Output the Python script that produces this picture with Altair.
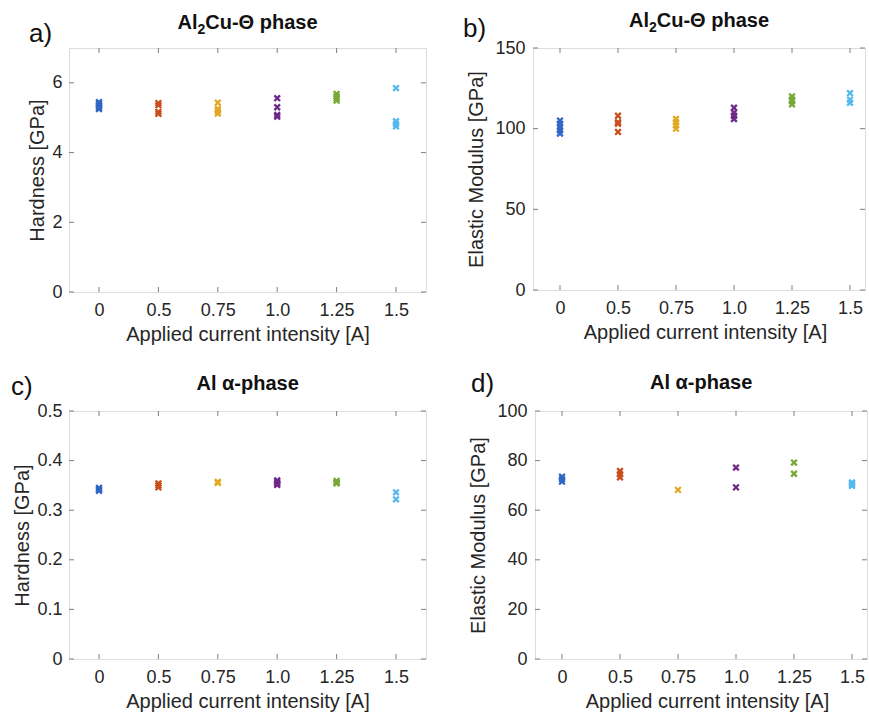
import altair as alt
import pandas as pd

# ---------------- data ----------------
cats = ["0", "0.5", "0.75", "1.0", "1.25", "1.5"]
colors = ["#2F67C4", "#C9501C", "#E0AA22", "#6E2886", "#76A935", "#55B9EE"]

# a) Al2Cu-theta phase, hardness [GPa]
hard_theta_0 = [5.25, 5.30, 5.35, 5.40, 5.45]
hard_theta_05 = [5.42, 5.36, 5.17, 5.11]
hard_theta_075 = [5.43, 5.25, 5.19, 5.12]
hard_theta_10 = [5.56, 5.30, 5.08, 5.03]
hard_theta_125 = [5.68, 5.61, 5.55, 5.49]
hard_theta_15 = [5.85, 4.90, 4.82, 4.75]

# b) Al2Cu-theta phase, elastic modulus [GPa]
mod_theta_0 = [105, 103, 101, 99, 97]
mod_theta_05 = [108, 104, 103, 98]
mod_theta_075 = [106, 104, 102, 100]
mod_theta_10 = [113, 110, 108, 106]
mod_theta_125 = [120, 118, 117, 115]
mod_theta_15 = [122, 118, 116]

# c) Al alpha-phase, hardness [GPa]
hard_alpha_0 = [0.345, 0.342, 0.339]
hard_alpha_05 = [0.354, 0.350, 0.346]
hard_alpha_075 = [0.357, 0.355]
hard_alpha_10 = [0.360, 0.357, 0.354, 0.351]
hard_alpha_125 = [0.359, 0.356, 0.354]
hard_alpha_15 = [0.336, 0.322]

# d) Al alpha-phase, elastic modulus [GPa]
mod_alpha_0 = [73.5, 72.5, 71.5]
mod_alpha_05 = [75.8, 74.5, 73.2]
mod_alpha_075 = [68.2]
mod_alpha_10 = [77.2, 69.2]
mod_alpha_125 = [79.2, 74.7]
mod_alpha_15 = [71.2, 70.5, 69.8]

FONT = "Liberation Sans"
TXT = "#262626"
BOX = "#7f7f7f"
XPATH = "M-1,-1L1,1M1,-1L-1,1"
TFS = 20  # panel title font size


def frame(groups):
    rows = []
    for c, vals in zip(cats, groups):
        for v in vals:
            rows.append({"cat": c, "v": v})
    return pd.DataFrame(rows)


def title_layers(parts, W, ty):
    # parts: list of (text, fontsize, dy, width_em)
    total = sum(fs * em for _, fs, _, em in parts)
    x = W / 2 - total / 2
    out = []
    for txt, fs, dy, em in parts:
        out.append(alt.Chart(pd.DataFrame({"t": [txt]})).mark_text(
            align="left", baseline="alphabetic", fontSize=fs, fontWeight="bold", font=FONT,
            color="#111111").encode(text="t:N", x=alt.value(x), y=alt.value(ty + dy)))
        x += fs * em
    return out


def panel(groups, ymax, yticks, fmt, ytitle, tparts, letter, W, H, rng, lx, ly, ty,
          tpad, lpad):
    df = frame(groups)
    xsc = alt.Scale(type="point", domain=cats, padding=0, range=rng)
    ysc = alt.Scale(domain=[0, ymax], nice=False, zero=True)
    xaxis = alt.Axis(title="Applied current intensity [A]", labelAngle=0, ticks=False,
                     domain=False, grid=False, labelPadding=9, titlePadding=5,
                     labelFontSize=18, titleFontSize=20, labelFont=FONT, titleFont=FONT,
                     labelColor=TXT, titleColor=TXT, titleFontWeight="normal")
    yaxis = alt.Axis(title=ytitle, values=yticks, format=fmt, ticks=False, domain=False,
                     grid=False, labelPadding=lpad, titlePadding=tpad, labelFontSize=18,
                     titleFontSize=20, labelFont=FONT, titleFont=FONT, labelColor=TXT,
                     titleColor=TXT, titleFontWeight="normal")
    X = alt.X("cat:N", sort=cats, scale=xsc, axis=xaxis)
    Y = alt.Y("v:Q", scale=ysc, axis=yaxis)
    pts = alt.Chart(df).mark_point(shape=XPATH, size=32, strokeWidth=2.3, filled=False,
                                   opacity=1).encode(
        x=X, y=Y,
        color=alt.Color("cat:N", sort=cats, scale=alt.Scale(domain=cats, range=colors),
                        legend=None),
    )
    xt = pd.DataFrame({"cat": cats})
    yt = pd.DataFrame({"v": yticks})
    xb = alt.Chart(xt).mark_rule(color=BOX, strokeWidth=1).encode(
        x=X, y=alt.value(H), y2=alt.value(H - 5))
    xtp = alt.Chart(xt).mark_rule(color=BOX, strokeWidth=1).encode(
        x=X, y=alt.value(0), y2=alt.value(5))
    yl = alt.Chart(yt).mark_rule(color=BOX, strokeWidth=1).encode(
        y=Y, x=alt.value(0), x2=alt.value(5))
    yr = alt.Chart(yt).mark_rule(color=BOX, strokeWidth=1).encode(
        y=Y, x=alt.value(W), x2=alt.value(W - 5))
    lab = alt.Chart(pd.DataFrame({"l": [letter]})).mark_text(
        align="left", baseline="middle", fontSize=26, font=FONT, color="#111111").encode(
        text="l:N", x=alt.value(lx), y=alt.value(ly))
    layers = [pts, xb, xtp, yl, yr, lab] + title_layers(tparts, W, ty)
    return alt.layer(*layers).properties(width=W, height=H)


theta_parts = [("Al", TFS, 0, 1.0), ("2", 14, 5, 0.556), ("Cu-\u0398 phase", TFS, 0, 5.612)]
alpha_parts = [("Al \u03b1-phase", TFS, 0, 5.1)]

WL, WR = 357, 332
RL = [30, 327]
RR = [27, 317]

pa = panel([hard_theta_0, hard_theta_05, hard_theta_075, hard_theta_10, hard_theta_125,
            hard_theta_15], 7, [0, 2, 4, 6], "d", "Hardness [GPa]", theta_parts, "a)",
           WL, 244, RL, -40, -14, -19, 4, 7)
pb = panel([mod_theta_0, mod_theta_05, mod_theta_075, mod_theta_10, mod_theta_125,
            mod_theta_15], 150, [0, 50, 100, 150], "d", "Elastic Modulus [GPa]",
           theta_parts, "b)", WR, 242, RR, -70, -19, -21, 8, 8)
pc = panel([hard_alpha_0, hard_alpha_05, hard_alpha_075, hard_alpha_10, hard_alpha_125,
            hard_alpha_15], 0.5, [0, 0.1, 0.2, 0.3, 0.4, 0.5], ".1~f", "Hardness [GPa]",
           alpha_parts, "c)", WL, 248, RL, -58, -24, -21, 4, 7)
pd_ = panel([mod_alpha_0, mod_alpha_05, mod_alpha_075, mod_alpha_10, mod_alpha_125,
             mod_alpha_15], 100, [0, 20, 40, 60, 80, 100], "d", "Elastic Modulus [GPa]",
            alpha_parts, "d)", WR, 248, RR, -64, -27, -22, 8, 8)

top = alt.hconcat(pa, pb, spacing=35)
bottom = alt.hconcat(pc, pd_, spacing=41)

chart = alt.vconcat(top, bottom, spacing=25).properties(
    padding={"left": 10, "top": 10, "right": 0, "bottom": 0}
).configure_view(stroke=BOX, strokeWidth=1).configure(background="white")

chart.save("out.html", embed_options={"renderer": "svg", "actions": False})
